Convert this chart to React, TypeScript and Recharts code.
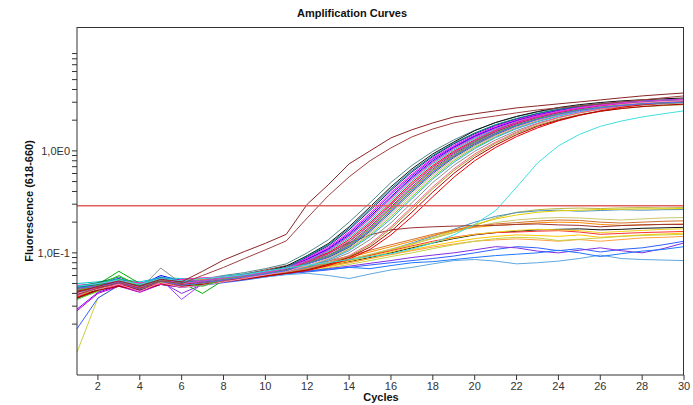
import React from "react";
import { LineChart, Line, XAxis, YAxis, ReferenceLine, CartesianGrid, Label } from "recharts";

const cycles = [1, 2, 3, 4, 5, 6, 7, 8, 9, 10, 11, 12, 13, 14, 15, 16, 17, 18, 19, 20, 21, 22, 23, 24, 25, 26, 27, 28, 29, 30];

// early positives (two brown curves)
const early1 = [0.041, 0.047, 0.053, 0.047, 0.055, 0.052, 0.066, 0.085, 0.103, 0.124, 0.152, 0.3, 0.464, 0.746, 1.0, 1.34, 1.61, 1.88, 2.15, 2.31, 2.47, 2.64, 2.76, 2.89, 3.02, 3.16, 3.31, 3.46, 3.58, 3.7];
const early2 = [0.039, 0.045, 0.051, 0.045, 0.053, 0.05, 0.06, 0.072, 0.088, 0.107, 0.131, 0.22, 0.362, 0.556, 0.8, 1.07, 1.37, 1.64, 1.88, 2.06, 2.2, 2.36, 2.52, 2.64, 2.76, 2.89, 3.02, 3.16, 3.31, 3.46];

// late positive (cyan)
const late1 = [0.047, 0.05, 0.054, 0.049, 0.056, 0.053, 0.056, 0.058, 0.061, 0.066, 0.071, 0.076, 0.08, 0.086, 0.092, 0.098, 0.109, 0.125, 0.15, 0.19, 0.26, 0.44, 0.76, 1.12, 1.45, 1.74, 1.96, 2.15, 2.31, 2.47];

// main cluster
const pos01 = [0.04, 0.046, 0.054, 0.046, 0.058, 0.052, 0.055, 0.06, 0.064, 0.07, 0.078, 0.1, 0.134, 0.2, 0.31, 0.49, 0.72, 0.99, 1.28, 1.59, 1.89, 2.16, 2.4, 2.61, 2.78, 2.91, 3.01, 3.09, 3.15, 3.2];
const pos02 = [0.036, 0.044, 0.05, 0.043, 0.052, 0.05, 0.051, 0.056, 0.06, 0.066, 0.074, 0.094, 0.123, 0.18, 0.282, 0.444, 0.666, 0.934, 1.22, 1.58, 1.9, 2.18, 2.43, 2.66, 2.84, 2.98, 3.09, 3.17, 3.24, 3.3];
const pos03 = [0.044, 0.048, 0.052, 0.047, 0.055, 0.048, 0.053, 0.054, 0.058, 0.064, 0.07, 0.091, 0.117, 0.168, 0.26, 0.41, 0.62, 0.88, 1.17, 1.47, 1.78, 2.05, 2.31, 2.54, 2.72, 2.86, 2.97, 3.06, 3.13, 3.18];
const pos04 = [0.048, 0.05, 0.049, 0.05, 0.053, 0.055, 0.052, 0.058, 0.061, 0.066, 0.071, 0.089, 0.113, 0.16, 0.245, 0.39, 0.59, 0.85, 1.13, 1.43, 1.74, 2.02, 2.28, 2.51, 2.7, 2.85, 2.96, 3.05, 3.12, 3.18];
const pos05 = [0.028, 0.041, 0.048, 0.042, 0.05, 0.047, 0.05, 0.053, 0.057, 0.062, 0.068, 0.087, 0.11, 0.155, 0.235, 0.375, 0.57, 0.83, 1.1, 1.4, 1.7, 1.98, 2.24, 2.47, 2.65, 2.8, 2.91, 3.0, 3.06, 3.1];
const pos06 = [0.042, 0.05, 0.056, 0.048, 0.06, 0.053, 0.056, 0.057, 0.06, 0.065, 0.07, 0.086, 0.108, 0.15, 0.226, 0.355, 0.55, 0.8, 1.08, 1.38, 1.68, 1.97, 2.23, 2.47, 2.67, 2.83, 2.95, 3.04, 3.12, 3.18];
const pos07 = [0.039, 0.046, 0.051, 0.045, 0.054, 0.051, 0.049, 0.055, 0.059, 0.063, 0.069, 0.084, 0.105, 0.145, 0.215, 0.34, 0.53, 0.77, 1.05, 1.35, 1.65, 1.94, 2.2, 2.43, 2.63, 2.79, 2.91, 3.0, 3.07, 3.12];
const pos08 = [0.05, 0.052, 0.055, 0.052, 0.057, 0.056, 0.054, 0.059, 0.062, 0.066, 0.071, 0.084, 0.103, 0.14, 0.205, 0.325, 0.51, 0.75, 1.02, 1.32, 1.62, 1.91, 2.17, 2.4, 2.6, 2.76, 2.88, 2.97, 3.04, 3.09];
const pos09 = [0.037, 0.043, 0.049, 0.044, 0.051, 0.049, 0.052, 0.056, 0.059, 0.064, 0.069, 0.082, 0.1, 0.135, 0.197, 0.31, 0.49, 0.72, 0.99, 1.28, 1.59, 1.89, 2.16, 2.4, 2.61, 2.78, 2.91, 3.01, 3.09, 3.15];
const pos10 = [0.045, 0.049, 0.066, 0.05, 0.056, 0.051, 0.04, 0.054, 0.058, 0.063, 0.068, 0.081, 0.097, 0.128, 0.188, 0.295, 0.465, 0.69, 0.96, 1.25, 1.55, 1.85, 2.12, 2.36, 2.56, 2.72, 2.84, 2.93, 3.0, 3.05];
const pos11 = [0.027, 0.04, 0.047, 0.041, 0.049, 0.046, 0.049, 0.053, 0.057, 0.062, 0.068, 0.08, 0.094, 0.123, 0.18, 0.282, 0.444, 0.666, 0.934, 1.22, 1.53, 1.84, 2.11, 2.36, 2.58, 2.76, 2.89, 3.0, 3.08, 3.15];
const pos12 = [0.043, 0.047, 0.053, 0.046, 0.052, 0.054, 0.055, 0.056, 0.059, 0.063, 0.068, 0.079, 0.092, 0.119, 0.173, 0.27, 0.425, 0.64, 0.9, 1.19, 1.5, 1.8, 2.07, 2.31, 2.52, 2.69, 2.82, 2.92, 2.99, 3.04];
const pos13 = [0.041, 0.045, 0.05, 0.047, 0.055, 0.035, 0.05, 0.055, 0.058, 0.062, 0.067, 0.078, 0.091, 0.116, 0.167, 0.26, 0.41, 0.62, 0.88, 1.17, 1.47, 1.78, 2.05, 2.3, 2.52, 2.71, 2.85, 2.96, 3.05, 3.12];
const pos14 = [0.047, 0.051, 0.058, 0.049, 0.053, 0.05, 0.051, 0.057, 0.06, 0.064, 0.069, 0.078, 0.09, 0.113, 0.162, 0.25, 0.395, 0.6, 0.86, 1.14, 1.44, 1.75, 2.02, 2.27, 2.48, 2.66, 2.8, 2.9, 2.98, 3.03];
const pos15 = [0.035, 0.042, 0.055, 0.044, 0.05, 0.048, 0.05, 0.054, 0.057, 0.061, 0.066, 0.073, 0.087, 0.108, 0.15, 0.226, 0.355, 0.55, 0.8, 1.08, 1.38, 1.68, 1.97, 2.23, 2.47, 2.67, 2.83, 2.95, 3.04, 3.1];
const pos16 = [0.046, 0.049, 0.052, 0.05, 0.058, 0.052, 0.053, 0.056, 0.058, 0.062, 0.066, 0.072, 0.085, 0.105, 0.145, 0.215, 0.34, 0.53, 0.77, 1.05, 1.35, 1.65, 1.93, 2.19, 2.42, 2.61, 2.76, 2.87, 2.96, 3.02];
const pos17 = [0.04, 0.046, 0.051, 0.044, 0.071, 0.05, 0.052, 0.055, 0.057, 0.061, 0.065, 0.071, 0.083, 0.1, 0.135, 0.197, 0.31, 0.49, 0.72, 0.99, 1.28, 1.58, 1.87, 2.13, 2.36, 2.55, 2.7, 2.81, 2.89, 2.95];
const pos18 = [0.044, 0.048, 0.05, 0.046, 0.051, 0.049, 0.054, 0.056, 0.058, 0.061, 0.065, 0.07, 0.08, 0.094, 0.123, 0.18, 0.282, 0.444, 0.666, 0.934, 1.22, 1.53, 1.84, 2.11, 2.36, 2.58, 2.76, 2.89, 3.0, 3.08];
const pos19 = [0.038, 0.045, 0.052, 0.049, 0.054, 0.047, 0.049, 0.053, 0.056, 0.06, 0.064, 0.069, 0.079, 0.092, 0.119, 0.173, 0.27, 0.425, 0.64, 0.9, 1.19, 1.49, 1.78, 2.04, 2.27, 2.46, 2.6, 2.71, 2.78, 2.84];
const pos20 = [0.042, 0.046, 0.048, 0.045, 0.05, 0.049, 0.051, 0.054, 0.056, 0.059, 0.063, 0.067, 0.075, 0.087, 0.108, 0.15, 0.226, 0.355, 0.55, 0.8, 1.08, 1.38, 1.68, 1.97, 2.23, 2.47, 2.67, 2.83, 2.95, 3.02];
const pos21 = [0.036, 0.043, 0.047, 0.043, 0.049, 0.047, 0.049, 0.052, 0.055, 0.059, 0.063, 0.068, 0.077, 0.09, 0.114, 0.162, 0.25, 0.395, 0.6, 0.86, 1.14, 1.44, 1.74, 2.0, 2.24, 2.44, 2.6, 2.72, 2.81, 2.87];
const pos22 = [0.043, 0.05, 0.053, 0.051, 0.049, 0.055, 0.057, 0.058, 0.061, 0.065, 0.07, 0.082, 0.098, 0.13, 0.19, 0.3, 0.47, 0.7, 0.97, 1.27, 1.58, 1.88, 2.16, 2.41, 2.62, 2.79, 2.92, 3.02, 3.1, 3.16];
const pos23 = [0.046, 0.049, 0.051, 0.047, 0.057, 0.051, 0.053, 0.057, 0.061, 0.066, 0.072, 0.093, 0.12, 0.174, 0.27, 0.425, 0.64, 0.9, 1.19, 1.5, 1.81, 2.08, 2.33, 2.55, 2.73, 2.87, 2.97, 3.05, 3.11, 3.15];
const pos24 = [0.04, 0.044, 0.049, 0.042, 0.051, 0.046, 0.048, 0.052, 0.056, 0.061, 0.066, 0.075, 0.088, 0.11, 0.156, 0.238, 0.375, 0.575, 0.83, 1.11, 1.41, 1.71, 2.0, 2.26, 2.49, 2.69, 2.84, 2.96, 3.05, 3.11];
const pos25 = [0.043, 0.048, 0.06, 0.047, 0.052, 0.05, 0.047, 0.055, 0.059, 0.063, 0.067, 0.079, 0.093, 0.12, 0.175, 0.275, 0.43, 0.65, 0.91, 1.2, 1.5, 1.8, 2.07, 2.31, 2.52, 2.68, 2.8, 2.89, 2.95, 2.99];
const pos26 = [0.038, 0.047, 0.052, 0.046, 0.056, 0.05, 0.053, 0.057, 0.06, 0.064, 0.07, 0.085, 0.106, 0.146, 0.218, 0.345, 0.535, 0.78, 1.06, 1.36, 1.66, 1.95, 2.21, 2.45, 2.66, 2.83, 2.96, 3.06, 3.14, 3.2];
const pos27 = [0.045, 0.047, 0.051, 0.044, 0.053, 0.048, 0.051, 0.054, 0.058, 0.062, 0.067, 0.078, 0.091, 0.116, 0.167, 0.26, 0.41, 0.62, 0.88, 1.17, 1.47, 1.77, 2.04, 2.28, 2.49, 2.66, 2.79, 2.89, 2.96, 3.01];

// non-amplifying samples
const neg01 = [0.044, 0.046, 0.054, 0.045, 0.052, 0.049, 0.052, 0.055, 0.058, 0.062, 0.067, 0.072, 0.078, 0.086, 0.096, 0.108, 0.122, 0.138, 0.158, 0.185, 0.22, 0.25, 0.265, 0.272, 0.275, 0.272, 0.276, 0.278, 0.276, 0.278];
const neg02 = [0.036, 0.042, 0.05, 0.044, 0.05, 0.046, 0.049, 0.053, 0.056, 0.061, 0.066, 0.071, 0.076, 0.084, 0.095, 0.108, 0.125, 0.145, 0.17, 0.2, 0.228, 0.248, 0.258, 0.262, 0.256, 0.26, 0.265, 0.262, 0.265, 0.266];
const neg03 = [0.047, 0.05, 0.055, 0.049, 0.053, 0.052, 0.054, 0.057, 0.06, 0.063, 0.067, 0.071, 0.077, 0.085, 0.095, 0.107, 0.121, 0.14, 0.165, 0.19, 0.215, 0.235, 0.25, 0.258, 0.262, 0.266, 0.268, 0.27, 0.27, 0.272];
const neg04 = [0.042, 0.048, 0.052, 0.046, 0.054, 0.05, 0.053, 0.056, 0.059, 0.063, 0.068, 0.072, 0.079, 0.087, 0.097, 0.109, 0.123, 0.14, 0.16, 0.18, 0.198, 0.21, 0.218, 0.222, 0.22, 0.214, 0.21, 0.215, 0.22, 0.222];
const neg05 = [0.038, 0.044, 0.052, 0.043, 0.051, 0.048, 0.05, 0.054, 0.058, 0.063, 0.068, 0.073, 0.08, 0.09, 0.102, 0.115, 0.13, 0.148, 0.165, 0.178, 0.186, 0.19, 0.197, 0.2, 0.198, 0.19, 0.186, 0.188, 0.19, 0.192];
const neg06 = [0.045, 0.049, 0.053, 0.047, 0.055, 0.051, 0.054, 0.058, 0.062, 0.068, 0.075, 0.085, 0.1, 0.125, 0.15, 0.168, 0.176, 0.18, 0.183, 0.185, 0.186, 0.19, 0.192, 0.188, 0.186, 0.18, 0.185, 0.188, 0.19, 0.19];
const neg07 = [0.04, 0.045, 0.05, 0.044, 0.052, 0.049, 0.051, 0.055, 0.058, 0.062, 0.066, 0.07, 0.075, 0.082, 0.09, 0.1, 0.112, 0.125, 0.138, 0.15, 0.158, 0.163, 0.168, 0.17, 0.172, 0.168, 0.17, 0.174, 0.176, 0.178];
const neg08 = [0.043, 0.047, 0.051, 0.046, 0.053, 0.05, 0.052, 0.055, 0.057, 0.061, 0.065, 0.07, 0.076, 0.084, 0.094, 0.105, 0.117, 0.13, 0.142, 0.152, 0.158, 0.16, 0.163, 0.165, 0.16, 0.152, 0.155, 0.158, 0.16, 0.162];
const neg09 = [0.039, 0.044, 0.049, 0.045, 0.051, 0.047, 0.05, 0.054, 0.057, 0.06, 0.064, 0.068, 0.073, 0.08, 0.088, 0.097, 0.107, 0.118, 0.128, 0.138, 0.145, 0.15, 0.148, 0.145, 0.15, 0.142, 0.146, 0.15, 0.153, 0.156];
const neg10 = [0.046, 0.048, 0.052, 0.048, 0.054, 0.051, 0.053, 0.056, 0.059, 0.062, 0.066, 0.069, 0.074, 0.08, 0.088, 0.096, 0.105, 0.114, 0.122, 0.13, 0.134, 0.137, 0.134, 0.13, 0.135, 0.13, 0.135, 0.14, 0.142, 0.145];
const neg11 = [0.0106, 0.036, 0.048, 0.043, 0.05, 0.046, 0.048, 0.052, 0.055, 0.059, 0.063, 0.067, 0.071, 0.077, 0.084, 0.092, 0.1, 0.11, 0.12, 0.13, 0.138, 0.142, 0.14, 0.132, 0.136, 0.14, 0.145, 0.148, 0.15, 0.152];
const neg12 = [0.018, 0.036, 0.048, 0.042, 0.049, 0.046, 0.048, 0.051, 0.054, 0.058, 0.062, 0.065, 0.068, 0.072, 0.076, 0.08, 0.084, 0.088, 0.093, 0.1, 0.108, 0.115, 0.112, 0.105, 0.11, 0.102, 0.108, 0.112, 0.12, 0.13];
const neg13 = [0.041, 0.045, 0.05, 0.045, 0.052, 0.04, 0.049, 0.053, 0.056, 0.059, 0.063, 0.066, 0.07, 0.074, 0.079, 0.084, 0.09, 0.095, 0.1, 0.107, 0.115, 0.112, 0.104, 0.1, 0.106, 0.112, 0.105, 0.1, 0.11, 0.125];
const neg14 = [0.045, 0.048, 0.051, 0.047, 0.052, 0.049, 0.05, 0.053, 0.055, 0.058, 0.061, 0.063, 0.06, 0.056, 0.062, 0.068, 0.072, 0.078, 0.084, 0.086, 0.083, 0.078, 0.08, 0.083, 0.088, 0.095, 0.088, 0.086, 0.085, 0.084];
const neg15 = [0.035, 0.043, 0.05, 0.046, 0.051, 0.047, 0.049, 0.052, 0.055, 0.059, 0.063, 0.066, 0.069, 0.072, 0.07, 0.075, 0.08, 0.082, 0.086, 0.09, 0.094, 0.097, 0.1, 0.106, 0.1, 0.092, 0.098, 0.104, 0.108, 0.115];
const neg16 = [0.041, 0.046, 0.05, 0.046, 0.053, 0.049, 0.051, 0.055, 0.058, 0.062, 0.066, 0.07, 0.075, 0.083, 0.092, 0.102, 0.114, 0.127, 0.14, 0.152, 0.16, 0.166, 0.17, 0.168, 0.165, 0.158, 0.162, 0.166, 0.17, 0.172];
const neg17 = [0.044, 0.047, 0.052, 0.047, 0.054, 0.05, 0.052, 0.056, 0.06, 0.064, 0.069, 0.075, 0.083, 0.093, 0.106, 0.12, 0.135, 0.152, 0.168, 0.182, 0.192, 0.198, 0.205, 0.21, 0.208, 0.2, 0.196, 0.2, 0.204, 0.206];

const threshold = 0.289;
const xTicks = [2, 4, 6, 8, 10, 12, 14, 16, 18, 20, 22, 24, 26, 28, 30];
const yTicks = [0.02, 0.03, 0.04, 0.05, 0.06, 0.07, 0.08, 0.09, 0.1, 0.2, 0.3, 0.4, 0.5, 0.6, 0.7, 0.8, 0.9, 1, 2, 3, 4, 5, 6, 7, 8, 9];
const yDomain = [0.00634, 16.4];

// draw order: negatives first, then cluster, then early / late curves
const curves: { name: string; values: number[]; color: string }[] = [
  { name: "neg01", values: neg01, color: "#b8b840" },
  { name: "neg02", values: neg02, color: "#4a90c0" },
  { name: "neg03", values: neg03, color: "#e8d000" },
  { name: "neg04", values: neg04, color: "#c8c870" },
  { name: "neg05", values: neg05, color: "#ff8c00" },
  { name: "neg06", values: neg06, color: "#993333" },
  { name: "neg07", values: neg07, color: "#111111" },
  { name: "neg08", values: neg08, color: "#ff3030" },
  { name: "neg09", values: neg09, color: "#ffc800" },
  { name: "neg10", values: neg10, color: "#ffa040" },
  { name: "neg11", values: neg11, color: "#c8d040" },
  { name: "neg12", values: neg12, color: "#3060ff" },
  { name: "neg13", values: neg13, color: "#8030e0" },
  { name: "neg14", values: neg14, color: "#60a8e0" },
  { name: "neg15", values: neg15, color: "#1e78ff" },
  { name: "neg16", values: neg16, color: "#f0d020" },
  { name: "neg17", values: neg17, color: "#d07030" },
  { name: "pos01", values: pos01, color: "#4f8a8b" },
  { name: "pos02", values: pos02, color: "#101010" },
  { name: "pos03", values: pos03, color: "#1a1a90" },
  { name: "pos04", values: pos04, color: "#ff00ff" },
  { name: "pos05", values: pos05, color: "#8000ff" },
  { name: "pos06", values: pos06, color: "#0000ff" },
  { name: "pos07", values: pos07, color: "#ff40a0" },
  { name: "pos08", values: pos08, color: "#00c8c8" },
  { name: "pos09", values: pos09, color: "#ff0000" },
  { name: "pos10", values: pos10, color: "#00b000" },
  { name: "pos11", values: pos11, color: "#c000c0" },
  { name: "pos12", values: pos12, color: "#ff8000" },
  { name: "pos13", values: pos13, color: "#a040ff" },
  { name: "pos14", values: pos14, color: "#008040" },
  { name: "pos15", values: pos15, color: "#66dd00" },
  { name: "pos16", values: pos16, color: "#3399ff" },
  { name: "pos17", values: pos17, color: "#8c8c8c" },
  { name: "pos18", values: pos18, color: "#ff6080" },
  { name: "pos19", values: pos19, color: "#a0a030" },
  { name: "pos20", values: pos20, color: "#ee0000" },
  { name: "pos21", values: pos21, color: "#b00000" },
  { name: "pos22", values: pos22, color: "#ff20c0" },
  { name: "pos23", values: pos23, color: "#008080" },
  { name: "pos24", values: pos24, color: "#ff90c0" },
  { name: "pos25", values: pos25, color: "#30c030" },
  { name: "pos26", values: pos26, color: "#e040e0" },
  { name: "pos27", values: pos27, color: "#6060ff" },
  { name: "late1", values: late1, color: "#40e0e0" },
  { name: "early2", values: early2, color: "#a04040" },
  { name: "early1", values: early1, color: "#8b2525" },
];

const data = cycles.map((cycle, i) => {
  const row: Record<string, number> = { cycle };
  curves.forEach((c) => {
    row[c.name] = c.values[i];
  });
  return row;
});

const font = "'Liberation Sans', Arial, sans-serif";

const formatY = (v: number) => (v === 0.1 ? "1,0E-1" : v === 1 ? "1,0E0" : "");

const App = () => {
  return (
    <div style={{ position: "absolute", left: 0, top: 0, width: 693, height: 405, background: "#fff" }}>
      <LineChart
        width={693}
        height={405}
        data={data}
        margin={{ top: 25, right: 7, bottom: 0, left: 7 }}
      >
        {/* top and right edges of the plot frame */}
        <CartesianGrid
          horizontalPoints={[27.5]}
          verticalPoints={[683.5]}
          stroke="#333"
          strokeDasharray="0"
        />
        <XAxis
          dataKey="cycle"
          type="number"
          domain={[1, 30]}
          ticks={xTicks}
          height={30}
          tickSize={5}
          stroke="#333"
          tick={{ fontSize: 11, fill: "#333", fontFamily: font }}
        >
          <Label
            content={() => (
              <text x={381} y={401} textAnchor="middle" fontSize={11} fontWeight="bold" fontFamily={font} fill="#111">
                Cycles
              </text>
            )}
          />
        </XAxis>
        <XAxis
          xAxisId="top"
          orientation="top"
          type="number"
          domain={[1, 30]}
          height={2}
          tick={false}
          tickLine={false}
          axisLine={false}
        >
          <Label
            content={() => (
              <g>
                <text x={352} y={17} textAnchor="middle" fontSize={11} fontWeight="bold" fontFamily={font} fill="#111">
                  Amplification Curves
                </text>
                <path d="M77,27.5 H683.5 V375" fill="none" stroke="#333" strokeWidth={1} />
              </g>
            )}
          />
        </XAxis>
        <YAxis
          scale="log"
          type="number"
          domain={yDomain}
          allowDataOverflow
          ticks={yTicks}
          tickFormatter={formatY}
          interval={0}
          width={70}
          tickSize={5}
          stroke="#333"
          tick={{ fontSize: 11, fill: "#333", fontFamily: font }}
        >
          <Label
            content={() => (
              <text
                x={29}
                y={201}
                transform="rotate(-90 29 201)"
                textAnchor="middle"
                dominantBaseline="central"
                fontSize={11}
                fontWeight="bold"
                fontFamily={font}
                fill="#111"
              >
                Fluorescence (618-660)
              </text>
            )}
          />
        </YAxis>
        <YAxis
          yAxisId="right"
          orientation="right"
          type="number"
          domain={[0, 1]}
          width={2}
          tick={false}
          tickLine={false}
          axisLine={false}
        />
        {curves.map((c) => (
          <Line
            key={c.name}
            dataKey={c.name}
            type="linear"
            stroke={c.color}
            strokeWidth={1}
            dot={false}
            activeDot={false}
            isAnimationActive={false}
          />
        ))}
        <ReferenceLine y={threshold} stroke="#e06060" strokeWidth={1.5} />
      </LineChart>
    </div>
  );
};

export default App;
